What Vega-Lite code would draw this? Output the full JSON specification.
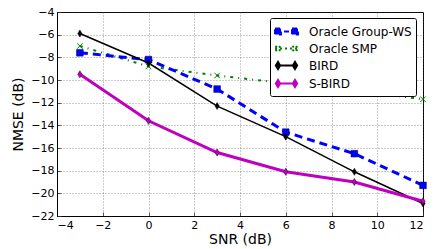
{
  "$schema": "https://vega.github.io/schema/vega-lite/v6.json",
  "width": 366,
  "height": 204,
  "autosize": {"type": "none"},
  "padding": {"left": 57, "top": 12, "right": 13, "bottom": 33},
  "background": "white",
  "config": {
    "font": "DejaVu Sans",
    "view": {"stroke": "black", "strokeWidth": 1},
    "axis": {
      "labelFont": "DejaVu Sans",
      "titleFont": "DejaVu Sans",
      "labelFontSize": 11,
      "titleFontSize": 14,
      "titleFontWeight": "normal",
      "labelColor": "black",
      "titleColor": "black",
      "domainColor": "black",
      "tickColor": "#333",
      "tickSize": -4,
      "tickWidth": 0.8,
      "labelPadding": 7,
      "gridColor": "#444",
      "gridDash": [1, 2],
      "gridWidth": 0.8,
      "gridOpacity": 0.7
    },
    "legend": {
      "title": null, "orient": "none", "legendX": 213, "legendY": 6,
      "fillColor": "white", "strokeColor": "black", "padding": 4, "cornerRadius": 2,
      "symbolSize": 289, "labelFontSize": 12, "labelFont": "DejaVu Sans",
      "labelColor": "black", "rowPadding": 0, "labelOffset": 13, "symbolOffset": 3,
      "symbolOpacity": 1, "symbolStrokeWidth": 2
    }
  },
  "data": {
    "values": [
      {"series": "Oracle Group-WS", "snr": -3, "nmse": -7.6},
      {"series": "Oracle Group-WS", "snr": 0, "nmse": -8.2},
      {"series": "Oracle Group-WS", "snr": 3, "nmse": -10.8},
      {"series": "Oracle Group-WS", "snr": 6, "nmse": -14.6},
      {"series": "Oracle Group-WS", "snr": 9, "nmse": -16.5},
      {"series": "Oracle Group-WS", "snr": 12, "nmse": -19.3},
      {"series": "Oracle SMP", "snr": -3, "nmse": -7.0},
      {"series": "Oracle SMP", "snr": 0, "nmse": -8.8},
      {"series": "Oracle SMP", "snr": 3, "nmse": -9.6},
      {"series": "Oracle SMP", "snr": 6, "nmse": -10.3},
      {"series": "Oracle SMP", "snr": 9, "nmse": -10.9},
      {"series": "Oracle SMP", "snr": 12, "nmse": -11.7},
      {"series": "BIRD", "snr": -3, "nmse": -5.9},
      {"series": "BIRD", "snr": 0, "nmse": -8.5},
      {"series": "BIRD", "snr": 3, "nmse": -12.3},
      {"series": "BIRD", "snr": 6, "nmse": -15.0},
      {"series": "BIRD", "snr": 9, "nmse": -18.1},
      {"series": "BIRD", "snr": 12, "nmse": -20.9},
      {"series": "S-BIRD", "snr": -3, "nmse": -9.5},
      {"series": "S-BIRD", "snr": 0, "nmse": -13.6},
      {"series": "S-BIRD", "snr": 3, "nmse": -16.4},
      {"series": "S-BIRD", "snr": 6, "nmse": -18.1},
      {"series": "S-BIRD", "snr": 9, "nmse": -19.0},
      {"series": "S-BIRD", "snr": 12, "nmse": -20.7}
    ]
  },
  "encoding": {
    "x": {
      "field": "snr", "type": "quantitative",
      "scale": {"domain": [-4, 12], "nice": false, "zero": false},
      "axis": {"values": [-4, -2, 0, 2, 4, 6, 8, 10, 12], "title": "SNR (dB)", "titlePadding": 2}
    },
    "y": {
      "field": "nmse", "type": "quantitative",
      "scale": {"domain": [-22, -4], "nice": false, "zero": false},
      "axis": {"values": [-22, -20, -18, -16, -14, -12, -10, -8, -6, -4], "title": "NMSE (dB)", "titlePadding": 5}
    }
  },
  "layer": [
    {
      "transform": [{"filter": "datum.series === 'Oracle SMP'"}],
      "mark": {"type": "line", "color": "#008000", "strokeWidth": 2, "strokeDash": [3, 5, 1, 5]}
    },
    {
      "transform": [{"filter": "datum.series === 'Oracle Group-WS'"}],
      "mark": {"type": "line", "color": "#0000ff", "strokeWidth": 3, "strokeDash": [8, 5]}
    },
    {
      "transform": [{"filter": "datum.series === 'BIRD'"}],
      "mark": {"type": "line", "color": "#000000", "strokeWidth": 1.5}
    },
    {
      "transform": [{"filter": "datum.series === 'S-BIRD'"}],
      "mark": {"type": "line", "color": "#bf00bf", "strokeWidth": 3}
    },
    {
      "transform": [{"filter": "datum.series === 'Oracle Group-WS'"}],
      "mark": {"type": "point", "shape": "square", "filled": true, "fill": "#0000ff", "stroke": "#000040", "strokeWidth": 0.5, "size": 45, "opacity": 1}
    },
    {
      "transform": [{"filter": "datum.series === 'Oracle SMP'"}],
      "mark": {"type": "point", "shape": "M-1,-1L1,1M-1,1L1,-1", "filled": false, "stroke": "#008000", "strokeWidth": 1, "size": 30, "opacity": 1}
    },
    {
      "transform": [{"filter": "datum.series === 'BIRD'"}],
      "mark": {"type": "point", "shape": "M0,-1L0.6,0L0,1L-0.6,0Z", "filled": true, "fill": "#000000", "stroke": "#000000", "strokeWidth": 0.5, "size": 50, "opacity": 1}
    },
    {
      "transform": [{"filter": "datum.series === 'S-BIRD'"}],
      "mark": {"type": "point", "shape": "M0,-1L0.6,0L0,1L-0.6,0Z", "filled": true, "fill": "#bf00bf", "stroke": "#400040", "strokeWidth": 0.6, "size": 50, "opacity": 1}
    },
    {
      "transform": [{"filter": "false"}],
      "mark": {"type": "point", "filled": true, "opacity": 1},
      "encoding": {
        "color": {
          "field": "series", "type": "nominal",
          "scale": {"domain": ["Oracle Group-WS", "Oracle SMP", "BIRD", "S-BIRD"], "range": ["#0000ff", "#008000", "#000000", "#bf00bf"]},
          "legend": {"title": null}
        },
        "stroke": {
          "field": "series", "type": "nominal",
          "scale": {"domain": ["Oracle Group-WS", "Oracle SMP", "BIRD", "S-BIRD"], "range": ["#0000ff", "#008000", "#000000", "#bf00bf"]},
          "legend": {"title": null}
        },
        "shape": {
          "field": "series", "type": "nominal",
          "scale": {"domain": ["Oracle Group-WS", "Oracle SMP", "BIRD", "S-BIRD"], "range": [
            "M-1.35,0L1.35,0M-1.35,-0.35L-0.65,-0.35L-0.65,0.35L-1.35,0.35ZM0.65,-0.35L1.35,-0.35L1.35,0.35L0.65,0.35Z",
            "M-1.35,0L1.35,0M-1.3,-0.3L-0.7,0.3M-1.3,0.3L-0.7,-0.3M0.7,-0.3L1.3,0.3M0.7,0.3L1.3,-0.3",
            "M-1.35,0L1.35,0M-1,-0.42L-0.75,0L-1,0.42L-1.25,0ZM1,-0.42L1.25,0L1,0.42L0.75,0Z",
            "M-1.35,0L1.35,0M-1,-0.42L-0.75,0L-1,0.42L-1.25,0ZM1,-0.42L1.25,0L1,0.42L0.75,0Z"
          ]},
          "legend": {"title": null}
        },
        "strokeDash": {
          "field": "series", "type": "nominal",
          "scale": {"domain": ["Oracle Group-WS", "Oracle SMP", "BIRD", "S-BIRD"], "range": [[5, 4], [2, 3], [1, 0], [1, 0]]},
          "legend": {"title": null}
        }
      }
    }
  ]
}
